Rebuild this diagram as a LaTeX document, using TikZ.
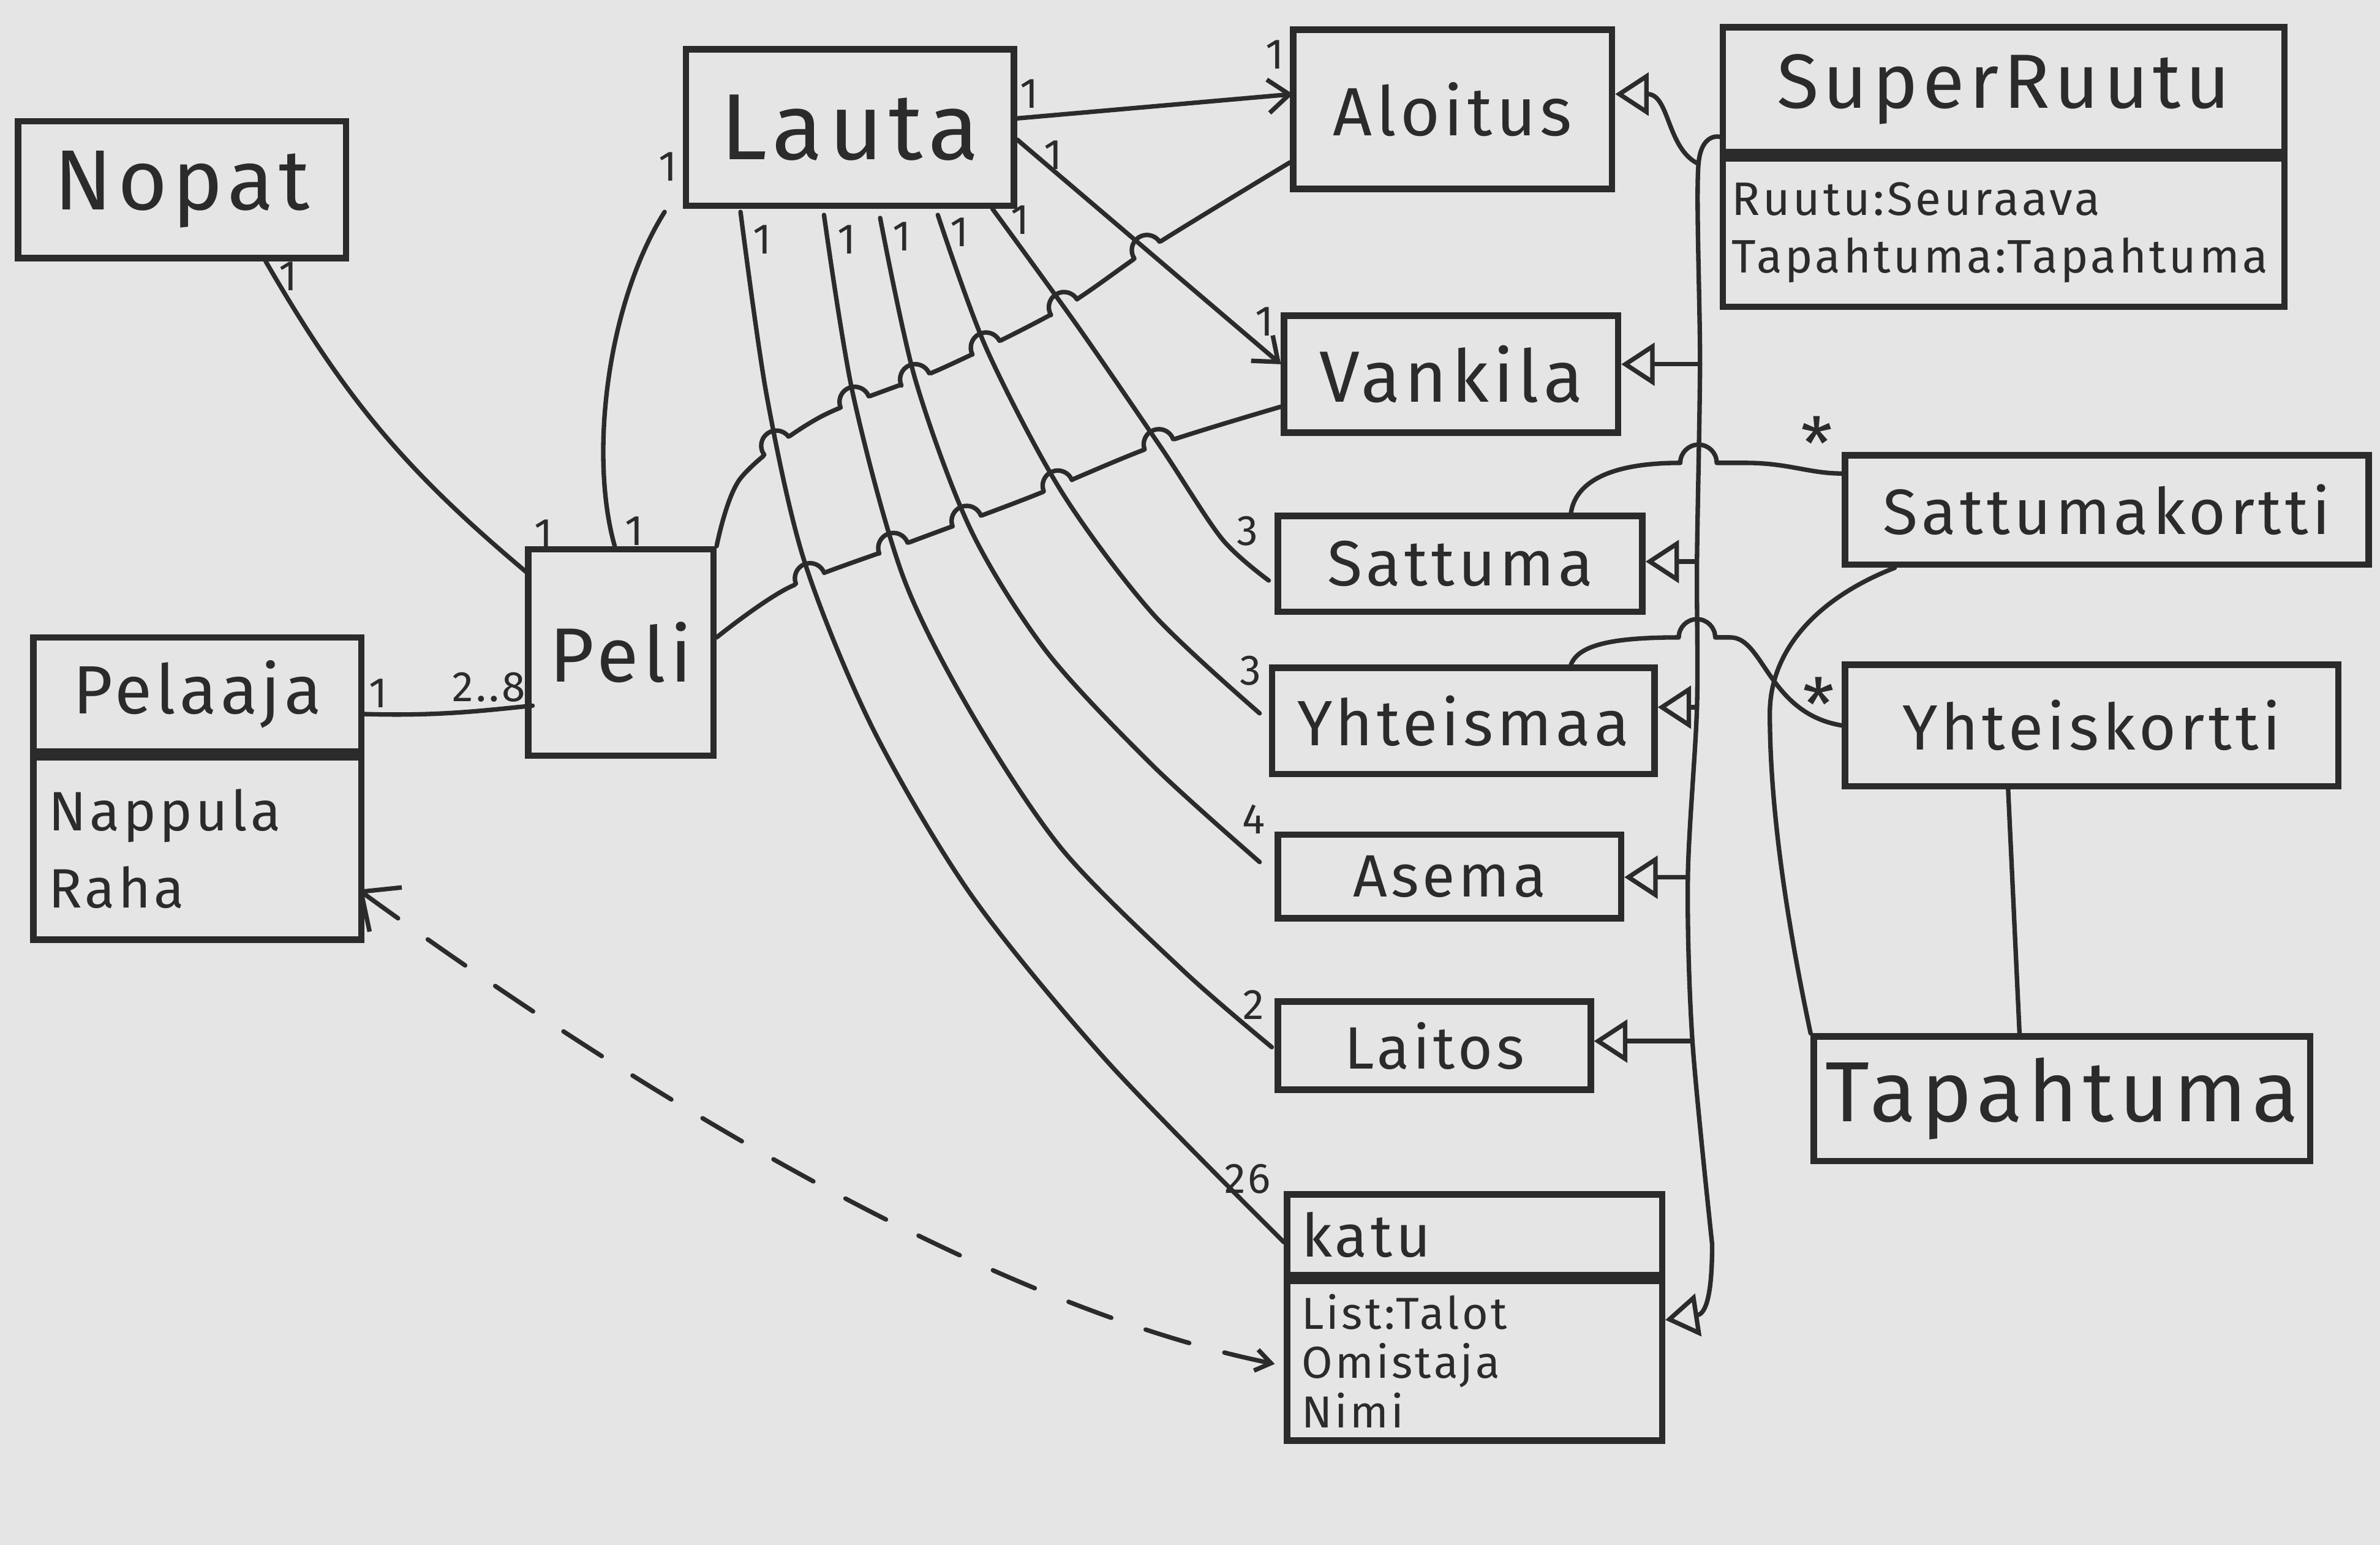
\documentclass[tikz,border=0pt]{standalone}
\usepackage{fontspec}
\setmainfont[LetterSpace=6]{Fira Sans}
\usetikzlibrary{arrows.meta,calc,intersections}
\definecolor{ink}{HTML}{2B2B2B}
\definecolor{bgA}{HTML}{E5E5E5}
\definecolor{bgB}{HTML}{D9D9D9}
\definecolor{bgC}{HTML}{C8C8C8}
\pgfdeclareradialshading{vign}{\pgfpoint{0bp}{0bp}}{color(0bp)=(bgA); color(38bp)=(bgA); color(60bp)=(bgB); color(72bp)=(bgC)}
\newcommand\FSz[2]{\fontsize{#1}{#2}\selectfont}
\newcommand\HopErase[1]{\fill[bgA] (#1) circle[radius=10.5];}
\newcommand\HopBump[2]{\draw[conn] ($(#1)+(#2+180:10)$) arc[start angle=#2+180, end angle=#2, radius=10];}
\tikzset{
  box/.style={draw=ink, line width=3pt, rectangle, inner sep=0pt, text=ink, align=center},
  conn/.style={draw=ink, line width=2.1pt, line cap=round, line join=round},
  inh/.style={conn, -{Triangle[open, length=0.55cm, width=0.7cm]}},
  barb/.style={conn, -{Straight Barb[length=0.35cm, width=0.55cm]}},
  mult/.style={text=ink, font=\FSz{20}{22}, inner sep=0pt}
}
\begin{document}
\begin{tikzpicture}[x=0.025cm, y=0.025cm]
\shade[shading=vign] (0,0) rectangle (1568,-1018);
\useasboundingbox (0,0) rectangle (1568,-1018);

% ---------- classes ----------
\node[box, minimum width=5.4cm, minimum height=2.25cm, font=\FSz{40}{44}] (nopat) at (120,-125) {Nopat};
\node[box, minimum width=5.4cm, minimum height=2.575cm, font=\FSz{44}{48}] (lauta) at (560,-84) {Lauta};
\node[box, minimum width=5.4cm, minimum height=1.875cm, font=\FSz{32}{36}] (pelaaja) at (130,-457.5) {Pelaaja};
\node[box, anchor=north, minimum width=5.4cm, minimum height=3cm, text width=4.9cm, align=left, font=\FSz{26}{36}] (pelaajaA) at (pelaaja.south) {Nappula\\Raha};
\node[box, minimum width=3.05cm, minimum height=3.4cm, font=\FSz{36}{40}] (peli) at (409,-430) {Peli};
\node[box, minimum width=5.25cm, minimum height=2.625cm, font=\FSz{32}{36}] (aloitus) at (957,-72) {Aloitus};
\node[box, minimum width=5.5cm, minimum height=1.925cm, font=\FSz{34}{38}] (vankila) at (956,-246.5) {Vankila};
\node[box, minimum width=6cm, minimum height=1.575cm, font=\FSz{30}{34}] (sattuma) at (962,-371.5) {Sattuma};
\node[box, minimum width=6.3cm, minimum height=1.75cm, font=\FSz{30}{34}] (yhteismaa) at (964,-475) {Yhteismaa};
\node[box, minimum width=5.65cm, minimum height=1.375cm, font=\FSz{28}{32}] (asema) at (955,-577.5) {Asema};
\node[box, minimum width=5.15cm, minimum height=1.45cm, font=\FSz{28}{32}] (laitos) at (945,-689) {Laitos};
\node[box, minimum width=6.175cm, minimum height=1.325cm, text width=5.7cm, align=left, font=\FSz{28}{32}] (katu) at (971.5,-813.5) {katu};
\node[box, anchor=north, minimum width=6.175cm, minimum height=2.625cm, text width=5.7cm, align=left, font=\FSz{21}{23}] (katuA) at (katu.south) {List:Talot\\Omistaja\\Nimi};
\node[box, minimum width=9.25cm, minimum height=2.05cm, font=\FSz{36}{40}] (sr) at (1320,-59) {SuperRuutu};
\node[box, anchor=north, minimum width=9.25cm, minimum height=2.45cm, text width=8.95cm, align=left, font=\FSz{22}{27}] (srA) at (sr.south) {Ruutu:Seuraava\\Tapahtuma:Tapahtuma};
\node[box, minimum width=8.625cm, minimum height=1.8cm, font=\FSz{30}{34}] (sk) at (1388,-336) {Sattumakortti};
\node[box, minimum width=8.125cm, minimum height=2cm, font=\FSz{30}{34}] (yk) at (1378,-478) {Yhteiskortti};
\node[box, minimum width=8.175cm, minimum height=2.05cm, font=\FSz{40}{44}] (tap) at (1358.5,-724) {Tapahtuma};

% ---------- Peli lines (with hops) ----------
\draw[conn, name path=PA] plot[smooth] coordinates {(peli.north east) (488,-315) (540,-275) (620,-243) (700,-203) (760,-162) ($(aloitus.west)+(0,-35)$)};
\draw[conn, name path=PV] plot[smooth] coordinates {($(peli.east)+(0,10)$) (520,-387) (600,-357) (680,-327) (760,-294) ($(vankila.west)+(0,-21.5)$)};

\path[name path=LA] plot[smooth] coordinates {($(lauta.south west)+(38,-2)$) (505,-260) (530,-370) (575,-480) (640,-590) (730,-700) ($(katu.west)+(0,-5)$)};
\path[name path=LB] plot[smooth] coordinates {($(lauta.south west)+(93,-4)$) (562,-260) (595,-380) (640,-470) (700,-560) (780,-640) ($(laitos.west)+(-2,-1)$)};
\path[name path=LC] plot[smooth] coordinates {($(lauta.south west)+(130,-6)$) (603,-250) (640,-350) (690,-430) (760,-505) ($(asema.west)+(-10,9.5)$)};
\path[name path=LD] plot[smooth] coordinates {($(lauta.south west)+(168,-4)$) (650,-230) (700,-325) (760,-405) ($(yhteismaa.west)+(-6,5)$)};
\path[name path=LE] plot[smooth] coordinates {($(lauta.south west)+(204,0)$) (710,-215) (765,-295) (805,-355) ($(sattuma.west)+(-4,-11)$)};
\path[name path=LV] ($(lauta.east)+(0,-8)$) -- ($(vankila.west)+(0,6.5)$);

\path[name intersections={of=PA and LA, by=pa1}];
\path[name intersections={of=PA and LB, by=pa2}];
\path[name intersections={of=PA and LC, by=pa3}];
\path[name intersections={of=PA and LD, by=pa4}];
\path[name intersections={of=PA and LE, by=pa5}];
\path[name intersections={of=PA and LV, by=pa6}];
\path[name intersections={of=PV and LA, by=pv1}];
\path[name intersections={of=PV and LB, by=pv2}];
\path[name intersections={of=PV and LC, by=pv3}];
\path[name intersections={of=PV and LD, by=pv4}];
\path[name intersections={of=PV and LE, by=pv5}];

\HopErase{pa1}\HopErase{pa2}\HopErase{pa3}\HopErase{pa4}\HopErase{pa5}\HopErase{pa6}
\HopErase{pv1}\HopErase{pv2}\HopErase{pv3}\HopErase{pv4}\HopErase{pv5}

% ---------- Lauta lines ----------
\draw[conn] plot[smooth] coordinates {($(lauta.south west)+(38,-2)$) (505,-260) (530,-370) (575,-480) (640,-590) (730,-700) ($(katu.west)+(0,-5)$)};
\draw[conn] plot[smooth] coordinates {($(lauta.south west)+(93,-4)$) (562,-260) (595,-380) (640,-470) (700,-560) (780,-640) ($(laitos.west)+(-2,-1)$)};
\draw[conn] plot[smooth] coordinates {($(lauta.south west)+(130,-6)$) (603,-250) (640,-350) (690,-430) (760,-505) ($(asema.west)+(-10,9.5)$)};
\draw[conn] plot[smooth] coordinates {($(lauta.south west)+(168,-4)$) (650,-230) (700,-325) (760,-405) ($(yhteismaa.west)+(-6,5)$)};
\draw[conn] plot[smooth] coordinates {($(lauta.south west)+(204,0)$) (710,-215) (765,-295) (805,-355) ($(sattuma.west)+(-4,-11)$)};
\draw[barb] ($(lauta.east)+(0,-8)$) -- ($(vankila.west)+(0,6.5)$);
\draw[barb] ($(lauta.east)+(0,6)$) -- ($(aloitus.west)+(2,10)$);

\HopBump{pa1}{37}\HopBump{pa2}{22}\HopBump{pa3}{24}\HopBump{pa4}{27}\HopBump{pa5}{31}\HopBump{pa6}{34}
\HopBump{pv1}{21}\HopBump{pv2}{21}\HopBump{pv3}{21}\HopBump{pv4}{22}\HopBump{pv5}{20}

% ---------- other associations ----------
\draw[conn] ($(nopat.south)+(55,0)$) to[bend right=10] ($(peli.north west)+(2,-18)$);
\draw[conn] ($(pelaaja.east)+(0,-13)$) .. controls (290,-472) and (320,-468) .. ($(peli.west)+(5,-35)$);
\draw[conn] ($(lauta.south west)+(-12,-2)$) .. controls (400,-200) and (388,-300) .. ($(peli.north)+(-4,0)$);

% ---------- inheritance tree ----------
\coordinate (tAl) at (1119,-108);
\coordinate (tV) at (1120,-240);
\coordinate (tS) at (1118,-370);
\coordinate (tY) at (1118,-466);
\coordinate (tAs) at (1112,-578);
\coordinate (tL) at (1115,-686);
\coordinate (tK) at (1128,-820);
\draw[conn] plot[smooth] coordinates {($(sr.south west)+(0,12)$) (tAl) (tV) (tS) (tY) (tAs) (tL) (tK)};
\draw[inh] (tAl) .. controls (1098,-98) and (1100,-62) .. ($(aloitus.east)+(0,10)$);
\draw[inh] (tV) -- ($(vankila.east)+(0,6.5)$);
\draw[inh] (tS) -- ($(sattuma.east)+(0,1.5)$);
\draw[inh] (tY) -- ($(yhteismaa.east)+(0,9)$);
\draw[inh] (tAs) -- ($(asema.east)+(0,-0.5)$);
\draw[inh] (tL) -- ($(laitos.east)+(0,3)$);
\draw[inh] (tK) .. controls (1128,-860) and (1122,-866) .. ($(katuA.east)+(0,27)$);

% ---------- cards ----------
\draw[conn] ($(sattuma.north)+(73,0)$) .. controls (1038,-318) and (1060,-305) .. (1107,-305) arc[start angle=180, end angle=0, radius=12] -- (1150,-305) .. controls (1178,-305) and (1192,-312) .. ($(sk.west)+(0,24)$);
\draw[conn] ($(yhteismaa.north)+(71,0)$) .. controls (1040,-425) and (1062,-420) .. (1106,-420) arc[start angle=180, end angle=0, radius=12] -- (1140,-420) .. controls (1162,-420) and (1165,-470) .. (yk.west);
\draw[conn] ($(sk.south west)+(35,0)$) .. controls (1195,-395) and (1166,-430) .. (1166,-470) .. controls (1166,-540) and (1180,-620) .. (tap.north west);
\draw[conn] ($(yk.south)+(-55,0)$) -- ($(tap.north)+(-28,0)$);

% ---------- dashed dependency ----------
\draw[conn, dash pattern=on 0.75cm off 0.6cm, {Straight Barb[length=0.25cm,width=0.35cm]}-{Straight Barb[length=0.5cm,width=0.9cm]}] ($(katuA.west)+(-6,-2)$) .. controls (650,-860) and (420,-720) .. ($(pelaajaA.east)+(-4,-27)$);

% ---------- multiplicities ----------
\node[mult] (m1) at (190,-182) {1};
\node[mult] (m2) at (358,-352) {1};
\node[mult] (m3) at (418,-350) {1};
\node[mult] (m4) at (440,-110) {1};
\node[mult] (m5) at (249,-457) {1};
\node[mult] (m6) at (322,-453) {2..8};
\node[mult] (m7) at (678,-62) {1};
\node[mult] (m8) at (840,-36) {1};
\node[mult] (m9) at (694,-102) {1};
\node[mult] (m10) at (833,-212) {1};
\node[mult] (m11) at (822,-350) {3};
\node[mult] (m12) at (824,-442) {3};
\node[mult] (m13) at (826,-540) {4};
\node[mult] (m14) at (826,-662) {2};
\node[mult] (m15) at (822,-777) {26};
\node[mult] (m16) at (502,-158) {1};
\node[mult] (m17) at (558,-158) {1};
\node[mult] (m18) at (594,-156) {1};
\node[mult] (m19) at (632,-153) {1};
\node[mult] (m20) at (672,-145) {1};
\node[mult, font=\FSz{34}{34}] (st1) at (1197,-292) {*};
\node[mult, font=\FSz{34}{34}] (st2) at (1198,-464) {*};
\end{tikzpicture}
\end{document}
